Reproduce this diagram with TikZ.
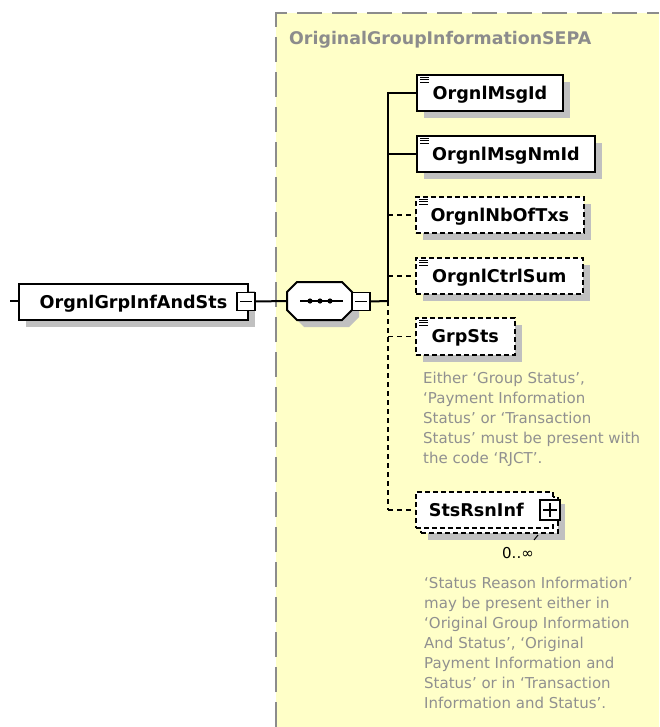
\documentclass[tikz,border=0pt]{standalone}
\usepackage{fontspec}
\setmainfont{DejaVu Sans}
\usetikzlibrary{shadows}
\definecolor{bgyellow}{HTML}{FFFFC8}
\definecolor{bordergray}{HTML}{8C8C8C}
\definecolor{notegray}{HTML}{909090}
\definecolor{shadowgray}{HTML}{C0C0C0}
\tikzset{
  elem/.style={draw=black, line width=2pt, fill=white, anchor=north west, inner sep=0pt,
    text height=12.7pt, text depth=0pt, font=\fontsize{17.6}{20}\selectfont\bfseries,
    general shadow={fill=shadowgray, shadow xshift=7pt, shadow yshift=-7pt}},
  optelem/.style={elem, line width=1.6pt, dash pattern=on 5pt off 3pt},
  plainopt/.style={draw=black, fill=white, line width=1.6pt, dash pattern=on 5pt off 3pt,
    anchor=north west, inner sep=0pt, text height=12.7pt, text depth=0pt,
    font=\fontsize{17.6}{20}\selectfont\bfseries},
  ctrlbox/.style={draw=black, fill=white, line width=1.5pt, inner sep=0pt, minimum size=18pt},
  conn/.style={draw=black, line width=2pt},
  dconn/.style={draw=black, line width=1.6pt, dash pattern=on 5pt off 4pt},
  note/.style={text=notegray, font=\fontsize{15}{20}\selectfont, anchor=base west, inner sep=0pt},
  titlestyle/.style={text=bordergray, font=\fontsize{17.4}{20}\selectfont\bfseries, anchor=base west, inner sep=0pt}
}
\newcommand{\docicon}[1]{%
  \draw[line width=0.9pt] ([shift={(4,3)}]#1.north west) -- ++(9,0)
    ([shift={(4,5.5)}]#1.north west) -- ++(9,0)
    ([shift={(4,8)}]#1.north west) -- ++(9,0);}
\begin{document}
\begin{tikzpicture}[x=1pt,y=-1pt]
\useasboundingbox (0,0) rectangle (659,727);
% group background
\fill[bgyellow] (276,13) rectangle (659,727);
\draw[bordergray, line width=2pt, dash pattern=on 25pt off 10pt] (276,727) -- (276,13) -- (659,13);
\node[titlestyle] (title) at (289,45) {OriginalGroupInformationSEPA};

% root element
\node[elem, minimum width=229pt, minimum height=36pt] (root) at (18,283) {OrgnlGrpInfAndSts};
\node[ctrlbox] (rootminus) at (246,301.5) {};
\draw[line width=1.5pt] ([xshift=4pt]rootminus.west) -- ([xshift=-4pt]rootminus.east);
\coordinate (stub) at (10,301);
\draw[conn] (stub) -- (root.west |- stub);

% sequence compositor
\node[minimum width=65pt, minimum height=38pt, inner sep=0pt] (seq) at (319.5,301) {};
\fill[shadowgray, shift={(7,7)}] (297,282) -- (342,282) -- (352,292) -- (352,310) -- (342,320) -- (297,320) -- (287,310) -- (287,292) -- cycle;
\draw[line width=2pt, fill=white] (297,282) -- (342,282) -- (352,292) -- (352,310) -- (342,320) -- (297,320) -- (287,310) -- (287,292) -- cycle;
\draw[line width=1.5pt] (300,301) -- (343,301);
\foreach \dx in {310,320,330} \fill (\dx,301) circle (2.6pt);
\node[ctrlbox] (seqminus) at (361,301.5) {};
\draw[line width=1.5pt] ([xshift=4pt]seqminus.west) -- ([xshift=-4pt]seqminus.east);
\draw[conn] (rootminus.east) -- (seq.west);

% children
\node[elem, minimum width=146pt, minimum height=36pt] (msgid) at (416,74) {OrgnlMsgId};
\node[elem, minimum width=178pt, minimum height=36pt] (nmid) at (416,135) {OrgnlMsgNmId};
\node[optelem, minimum width=168pt, minimum height=36pt] (txs) at (415,196) {OrgnlNbOfTxs};
\node[optelem, minimum width=167pt, minimum height=36pt] (ctrl) at (415,257) {OrgnlCtrlSum};
\node[optelem, minimum width=99pt, minimum height=37pt] (grp) at (415,317) {GrpSts};
\node[optelem, minimum width=137pt, minimum height=36pt] (stsback) at (420,496) {};
\node[plainopt, minimum width=137pt, minimum height=36pt] (sts) at (415,491) {StsRsnInf\hspace*{16pt}};
\node[ctrlbox, minimum size=20pt] (stsplus) at (550,510) {};
\draw[line width=1.5pt] ([xshift=4pt]stsplus.west) -- ([xshift=-4pt]stsplus.east)
  ([yshift=-4pt]stsplus.north) -- ([yshift=4pt]stsplus.south);
\node[font=\fontsize{15}{18}\selectfont, anchor=base west, inner sep=0pt] (occ) at (502,558) {0..∞};
\draw[line width=1pt] (534,540) -- (538,535);

\docicon{msgid}
\docicon{nmid}
\docicon{txs}
\docicon{ctrl}
\docicon{grp}

% connectors
\coordinate (jn) at (388,301);
\coordinate (vtop) at (388,92);
\coordinate (vbot) at (388,510);
\draw[conn] (seqminus.east) -- (jn);
\draw[conn] (vtop) -- (jn);
\draw[dconn] (jn) -- (vbot);
\draw[conn] (msgid.west -| jn) -- (msgid.west);
\draw[conn] (nmid.west -| jn) -- (nmid.west);
\draw[dconn] (txs.west -| jn) -- (txs.west);
\draw[dconn] (ctrl.west -| jn) -- (ctrl.west);
\draw[dconn] (grp.west -| jn) -- (grp.west);
\draw[dconn] (vbot) -- (sts.west |- vbot);

% annotations
\node[note] (ga) at (423,383) {Either ‘Group Status’,};
\node[note] (gb) at (423,403) {‘Payment Information};
\node[note] (gc) at (423,423) {Status’ or ‘Transaction};
\node[note] (gd) at (423,443) {Status’ must be present with};
\node[note] (ge) at (423,463) {the code ‘RJCT’.};

\node[note] (sa) at (424,588) {‘Status Reason Information’};
\node[note] (sb) at (424,608) {may be present either in};
\node[note] (sc) at (424,628) {‘Original Group Information};
\node[note] (sd) at (424,648) {And Status’, ‘Original};
\node[note] (se) at (424,668) {Payment Information and};
\node[note] (sf) at (424,688) {Status’ or in ‘Transaction};
\node[note] (sg) at (424,708) {Information and Status’.};
\end{tikzpicture}
\end{document}
